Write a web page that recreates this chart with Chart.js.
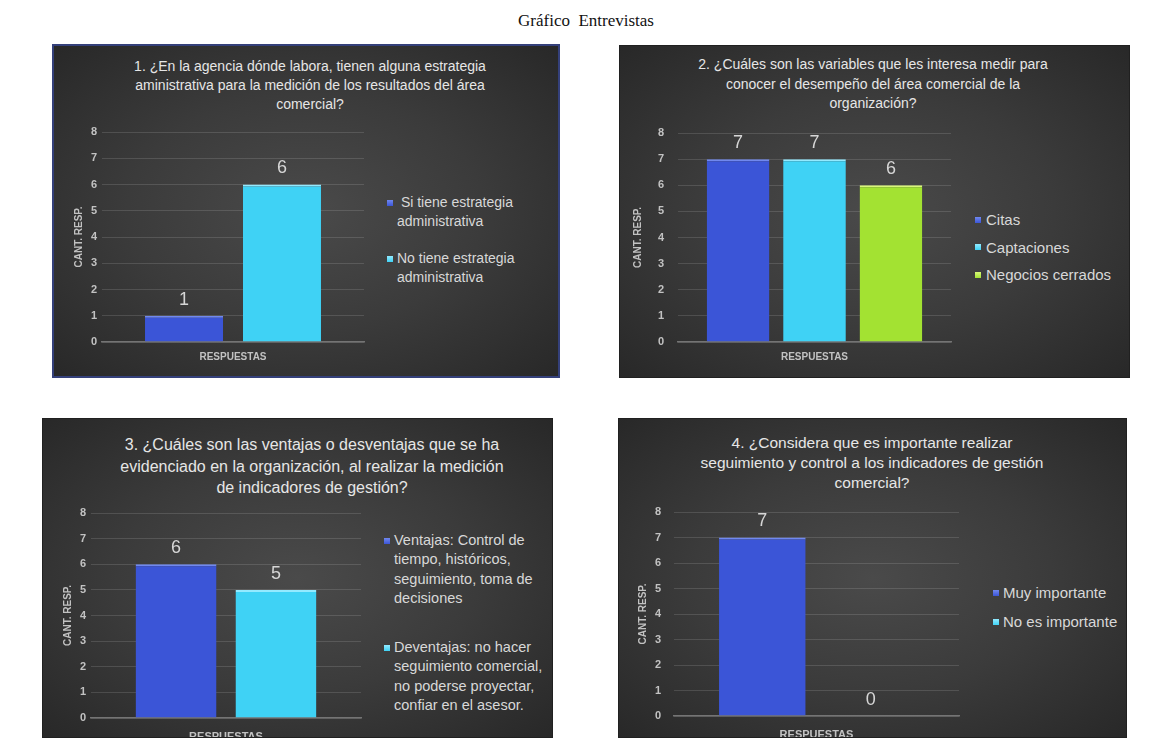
<!DOCTYPE html>
<html>
<head>
<meta charset="utf-8">
<script src="https://cdn.jsdelivr.net/npm/chart.js@4.4.0/dist/chart.umd.min.js"></script>
<style>
  body { margin:0; width:1172px; height:738px; background:#fff; position:relative; overflow:hidden; font-family:"Liberation Sans", Arial, sans-serif; }
  #cabecera { position:absolute; left:0; top:11px; width:1172px; text-align:center; font-family:"Liberation Serif", "Times New Roman", serif; font-size:17px; color:#111; white-space:pre; }
  .panel { position:absolute; overflow:hidden; box-sizing:border-box; border:1px solid #202020;
           background:radial-gradient(ellipse at 50% 50%, #4a4a4a 0%, #3b3b3b 50%, #282828 100%); }
  .titulo { position:absolute; width:500px; text-align:center; color:#e6e6e6; }
  .titulo div { white-space:nowrap; }
  .envoltura { position:absolute; left:0; }
  .leyenda { position:absolute; color:#d8d8d8; }
  .item { position:relative; white-space:nowrap; }
  .marca { position:absolute; width:6px; height:6px; }
</style>
</head>
<body>
<div id="cabecera">Gráfico  Entrevistas</div>
<script>
// datos
const categorias = ['RESPUESTAS'];
const ejeY = 'CANT. RESP.';
const yMin = 0, yMax = 8, yPaso = 1;

const titulo1 = ['1. ¿En la agencia dónde labora, tienen alguna estrategia', 'aministrativa para la medición de los resultados del área', 'comercial?'];
const series1 = [[' Si tiene estrategia', 'administrativa'], ['No tiene estrategia', 'administrativa']];
const valores1 = [1, 6];

const titulo2 = ['2. ¿Cuáles son las variables que les interesa medir para', 'conocer el desempeño del área comercial de la', 'organización?'];
const series2 = [['Citas'], ['Captaciones'], ['Negocios cerrados']];
const valores2 = [7, 7, 6];

const titulo3 = ['3. ¿Cuáles son las ventajas o desventajas que se ha', 'evidenciado en la organización, al realizar la medición', 'de indicadores de gestión?'];
const series3 = [['Ventajas: Control de', 'tiempo, históricos,', 'seguimiento, toma de', 'decisiones'],
                 ['Deventajas: no hacer', 'seguimiento comercial,', 'no poderse proyectar,', 'confiar en el asesor.']];
const valores3 = [6, 5];

const titulo4 = ['4. ¿Considera que es importante realizar', 'seguimiento y control a los indicadores de gestión', 'comercial?'];
const series4 = [['Muy importante'], ['No es importante']];
const valores4 = [7, 0];

// colores
const azul = '#3b55d7', azulBorde = '#7088ef';
const celeste = '#3fd2f5', celesteBorde = '#93eaff';
const verde = '#a3e232', verdeBorde = '#d8f77a';

// etiquetas de valor encima de cada barra
const etiquetas = {
  id: 'etiquetas',
  afterDatasetsDraw(chart, args, opts) {
    const ctx = chart.ctx;
    ctx.save();
    ctx.font = opts.size + 'px "Liberation Sans", Arial, sans-serif';
    ctx.fillStyle = '#d6d6d6';
    ctx.textAlign = 'center';
    ctx.textBaseline = 'middle';
    chart.data.datasets.forEach((ds, i) => {
      chart.getDatasetMeta(i).data.forEach((barra, j) => {
        ctx.fillText(ds.data[j], barra.x, barra.y - opts.offset);
      });
    });
    ctx.restore();
  }
};

function grafico(p) {
  const panel = document.createElement('div');
  panel.className = 'panel';
  panel.style.left = p.x + 'px';
  panel.style.top = p.y + 'px';
  panel.style.width = p.w + 'px';
  panel.style.height = p.h + 'px';
  if (p.borde) panel.style.border = p.borde;
  document.body.appendChild(panel);

  // titulo
  const t = document.createElement('div');
  t.className = 'titulo';
  t.style.left = (p.tx - 250) + 'px';
  t.style.top = p.ty + 'px';
  t.style.fontSize = p.tf + 'px';
  t.style.lineHeight = p.tlh + 'px';
  p.titulo.forEach(l => { const d = document.createElement('div'); d.textContent = l; t.appendChild(d); });
  panel.appendChild(t);

  // grafico
  const arriba = p.area.top - 30;
  const env = document.createElement('div');
  env.className = 'envoltura';
  env.style.top = arriba + 'px';
  const cv = document.createElement('canvas');
  cv.width = p.area.right + 10;
  cv.height = p.h - arriba;
  env.appendChild(cv);
  panel.appendChild(env);

  const datasets = p.series.map((s, i) => ({
    label: s.join(' ').trim(),
    data: [p.valores[i]],
    backgroundColor: p.colores[i],
    borderColor: p.bordes[i],
    borderWidth: { top: 2, left: 0, right: 0, bottom: 0 },
    borderSkipped: 'start',
    categoryPercentage: p.cat,
    barPercentage: p.bar
  }));

  new Chart(cv, {
    type: 'bar',
    data: { labels: categorias, datasets: datasets },
    plugins: [etiquetas],
    options: {
      responsive: false,
      animation: false,
      layout: { padding: { top: 30, right: 10, left: 0, bottom: 0 } },
      plugins: {
        legend: { display: false },
        tooltip: { enabled: false },
        etiquetas: { size: 18, offset: 16 }
      },
      scales: {
        x: {
          grid: { display: false },
          border: { display: true, color: '#747474', width: 1.5 },
          ticks: { color: '#c2c2c2', padding: p.xpad, font: { size: p.xf, weight: 'bold', family: '"Liberation Sans Narrow", "Liberation Sans", Arial' } },
          afterFit(s) { s.height = p.h - p.area.bottom; }
        },
        y: {
          min: yMin, max: yMax,
          ticks: { stepSize: yPaso, color: '#c2c2c2', padding: p.ypad, font: { size: 11, weight: 'bold' } },
          grid: { color: 'rgba(255,255,255,0.13)', drawTicks: false },
          border: { display: false },
          title: { display: true, text: ejeY, color: '#c2c2c2', padding: { top: p.ytit - 6 }, font: { size: 10, weight: 'bold' } },
          afterFit(s) { s.width = p.area.left; }
        }
      }
    }
  });

  // leyenda
  const lg = document.createElement('div');
  lg.className = 'leyenda';
  lg.style.left = p.lx + 'px';
  lg.style.top = p.ly + 'px';
  lg.style.fontSize = p.lf + 'px';
  lg.style.lineHeight = p.llh + 'px';
  p.series.forEach((s, i) => {
    const it = document.createElement('div');
    it.className = 'item';
    if (i < p.series.length - 1) it.style.marginBottom = p.lgap + 'px';
    s.forEach(l => { const d = document.createElement('div'); d.textContent = l; d.style.whiteSpace = 'pre'; it.appendChild(d); });
    const m = document.createElement('div');
    m.className = 'marca';
    m.style.left = (-p.lm) + 'px';
    m.style.top = (p.llh / 2 - 3) + 'px';
    m.style.background = 'linear-gradient(' + p.bordes[i] + ',' + p.colores[i] + ')';
    it.appendChild(m);
    lg.appendChild(it);
  });
  panel.appendChild(lg);
}

grafico({ x: 52, y: 44, w: 508, h: 334, borde: '2px solid #34407a',
  titulo: titulo1, tx: 256, ty: 11, tf: 14, tlh: 19,
  area: { left: 48, top: 86, right: 310, bottom: 296 }, ypad: 5, ytit: 25, xpad: 1, xf: 10,
  series: series1, valores: valores1, colores: [azul, celeste], bordes: [azulBorde, celesteBorde], cat: 0.748, bar: 0.796,
  lx: 343, ly: 147, lf: 14, llh: 19, lgap: 18, lm: 10 });

grafico({ x: 619, y: 45, w: 511, h: 333,
  titulo: titulo2, tx: 253, ty: 9, tf: 14, tlh: 19.5,
  area: { left: 58, top: 87, right: 331, bottom: 296 }, ypad: 14, ytit: 18, xpad: 1, xf: 10,
  series: series2, valores: valores2, colores: [azul, celeste, verde], bordes: [azulBorde, celesteBorde, verdeBorde], cat: 0.84, bar: 0.82,
  lx: 366, ly: 164, lf: 15, llh: 19, lgap: 8.5, lm: 11 });

grafico({ x: 42, y: 418, w: 511, h: 320,
  titulo: titulo3, tx: 269, ty: 15, tf: 16, tlh: 21.5,
  area: { left: 48, top: 94, right: 318, bottom: 299 }, ypad: 5, ytit: 25, xpad: 4, xf: 11,
  series: series3, valores: valores3, colores: [azul, celeste], bordes: [azulBorde, celesteBorde], cat: 0.74, bar: 0.81,
  lx: 351, ly: 112, lf: 14.5, llh: 19.3, lgap: 30, lm: 10 });

grafico({ x: 618, y: 418, w: 509, h: 320,
  titulo: titulo4, tx: 253, ty: 14, tf: 15.5, tlh: 20,
  area: { left: 55, top: 93, right: 340, bottom: 297 }, ypad: 13, ytit: 24, xpad: 4, xf: 11,
  series: series4, valores: valores4, colores: [azul, celeste], bordes: [azulBorde, celesteBorde], cat: 0.76, bar: 0.8,
  lx: 384, ly: 164, lf: 15, llh: 19, lgap: 10, lm: 10 });
</script>
</body>
</html>
